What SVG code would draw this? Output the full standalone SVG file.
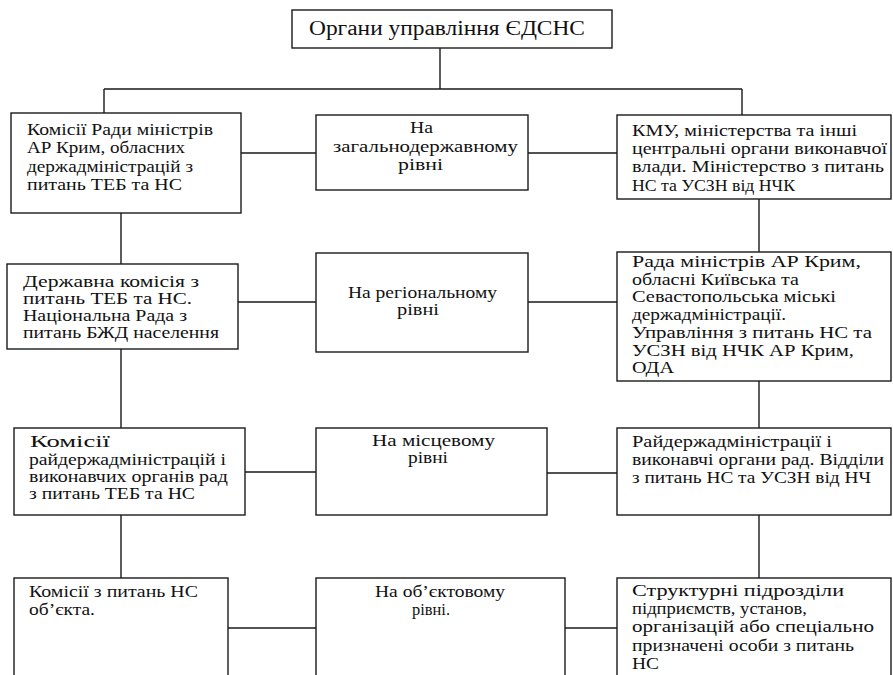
<svg xmlns="http://www.w3.org/2000/svg" width="893" height="675" viewBox="0 0 893 675">
<style>
.box{fill:#fff;stroke:#1a1a1a;stroke-width:1.4}
.ln{stroke:#1a1a1a;stroke-width:1.4;fill:none}
text{font-family:"Liberation Serif","DejaVu Serif",serif;font-size:17px;fill:#111}
.t{font-size:20px}
.s{font-size:16px}
</style>
<rect width="893" height="675" fill="#fff"/>
<g id="connectors">
<path class="ln" d="M440 48V89M104 89H742M104 89V113M742 89V115"/>
<path class="ln" d="M241 153H316M528 153H617"/>
<path class="ln" d="M121 213V264M759 199V252"/>
<path class="ln" d="M238 302H316M528 302H617"/>
<path class="ln" d="M121 349V428M759 381V428"/>
<path class="ln" d="M245 472H316M547 473H617"/>
<path class="ln" d="M121 515V578M759 515V578"/>
<path class="ln" d="M228 628H316M565 628H617"/>
</g>
<g id="root">
<rect class="box" x="292" y="10" width="320" height="38"/>
<text class="t" x="309" y="35" textLength="276" lengthAdjust="spacingAndGlyphs">Органи управління ЄДСНС</text>
</g>
<g id="a1">
<rect class="box" x="11" y="113" width="230" height="100"/>
<text x="27" y="135" textLength="186" lengthAdjust="spacingAndGlyphs">Комісії Ради міністрів</text>
<text x="27" y="153" textLength="158" lengthAdjust="spacingAndGlyphs">АР Крим, обласних</text>
<text x="27" y="172" textLength="166" lengthAdjust="spacingAndGlyphs">держадміністрацій з</text>
<text x="27" y="190" textLength="155" lengthAdjust="spacingAndGlyphs">питань ТЕБ та НС</text>
</g>
<g id="m1">
<rect class="box" x="316" y="115" width="212" height="75"/>
<text x="410" y="133" textLength="23" lengthAdjust="spacingAndGlyphs">На</text>
<text x="333" y="152" textLength="185" lengthAdjust="spacingAndGlyphs">загальнодержавному</text>
<text x="398" y="170" textLength="45" lengthAdjust="spacingAndGlyphs">рівні</text>
</g>
<g id="r1">
<rect class="box" x="617" y="115" width="274" height="84"/>
<text x="632" y="136" textLength="225" lengthAdjust="spacingAndGlyphs">КМУ, міністерства та інші</text>
<text x="632" y="154" textLength="255" lengthAdjust="spacingAndGlyphs">центральні органи виконавчої</text>
<text x="632" y="172" textLength="252" lengthAdjust="spacingAndGlyphs">влади. Міністерство з питань</text>
<text x="632" y="191" textLength="163" lengthAdjust="spacingAndGlyphs">НС та УСЗН від НЧК</text>
</g>
<g id="a2">
<rect class="box" x="7" y="264" width="231" height="85"/>
<text class="s" x="23" y="287" textLength="176" lengthAdjust="spacingAndGlyphs">Державна комісія з</text>
<text class="s" x="23" y="304" textLength="169" lengthAdjust="spacingAndGlyphs">питань ТЕБ та НС.</text>
<text class="s" x="23" y="321" textLength="164" lengthAdjust="spacingAndGlyphs">Національна Рада з</text>
<text class="s" x="23" y="338" textLength="196" lengthAdjust="spacingAndGlyphs">питань БЖД населення</text>
</g>
<g id="m2">
<rect class="box" x="316" y="253" width="212" height="99"/>
<text x="348" y="298" textLength="149" lengthAdjust="spacingAndGlyphs">На регіональному</text>
<text x="397" y="315" textLength="42" lengthAdjust="spacingAndGlyphs">рівні</text>
</g>
<g id="r2">
<rect class="box" x="617" y="252" width="274" height="129"/>
<text x="632" y="267" textLength="229" lengthAdjust="spacingAndGlyphs">Рада міністрів АР Крим,</text>
<text x="632" y="285" textLength="167" lengthAdjust="spacingAndGlyphs">обласні Київська та</text>
<text x="632" y="302" textLength="204" lengthAdjust="spacingAndGlyphs">Севастопольська міські</text>
<text x="632" y="320" textLength="154" lengthAdjust="spacingAndGlyphs">держадміністрації.</text>
<text x="632" y="338" textLength="240" lengthAdjust="spacingAndGlyphs">Управління з питань НС та</text>
<text x="632" y="356" textLength="222" lengthAdjust="spacingAndGlyphs">УСЗН від НЧК АР Крим,</text>
<text x="632" y="373" textLength="42" lengthAdjust="spacingAndGlyphs">ОДА</text>
</g>
<g id="a3">
<rect class="box" x="14" y="428" width="231" height="87"/>
<text x="30" y="447" textLength="80" lengthAdjust="spacingAndGlyphs">Комісії</text>
<text x="29" y="465" textLength="197" lengthAdjust="spacingAndGlyphs">райдержадміністрацій і</text>
<text x="29" y="482" textLength="199" lengthAdjust="spacingAndGlyphs">виконавчих органів рад</text>
<text x="29" y="499" textLength="166" lengthAdjust="spacingAndGlyphs">з питань ТЕБ та НС</text>
</g>
<g id="m3">
<rect class="box" x="316" y="428" width="231" height="87"/>
<text x="372" y="446" textLength="123" lengthAdjust="spacingAndGlyphs">На місцевому</text>
<text x="408" y="463" textLength="40" lengthAdjust="spacingAndGlyphs">рівні</text>
</g>
<g id="r3">
<rect class="box" x="617" y="428" width="274" height="87"/>
<text x="632" y="447" textLength="200" lengthAdjust="spacingAndGlyphs">Райдержадміністрації і</text>
<text x="632" y="465" textLength="252" lengthAdjust="spacingAndGlyphs">виконавчі органи рад. Відділи</text>
<text x="632" y="483" textLength="239" lengthAdjust="spacingAndGlyphs">з питань НС та УСЗН від НЧ</text>
</g>
<g id="a4">
<rect class="box" x="14" y="578" width="214" height="130"/>
<text x="29" y="597" textLength="169" lengthAdjust="spacingAndGlyphs">Комісії з питань НС</text>
<text x="29" y="615" textLength="66" lengthAdjust="spacingAndGlyphs">об’єкта.</text>
</g>
<g id="m4">
<rect class="box" x="316" y="578" width="249" height="130"/>
<text x="375" y="597" textLength="130" lengthAdjust="spacingAndGlyphs">На об’єктовому</text>
<text x="412" y="615" textLength="38" lengthAdjust="spacingAndGlyphs">рівні.</text>
</g>
<g id="r4">
<rect class="box" x="617" y="578" width="274" height="130"/>
<text x="632" y="596" textLength="212" lengthAdjust="spacingAndGlyphs">Структурні  підрозділи</text>
<text x="632" y="614" textLength="175" lengthAdjust="spacingAndGlyphs">підприємств, установ,</text>
<text x="632" y="632" textLength="242" lengthAdjust="spacingAndGlyphs">організацій або спеціально</text>
<text x="632" y="651" textLength="222" lengthAdjust="spacingAndGlyphs">призначені особи з питань</text>
<text x="632" y="669" textLength="27" lengthAdjust="spacingAndGlyphs">НС</text>
</g>
</svg>
